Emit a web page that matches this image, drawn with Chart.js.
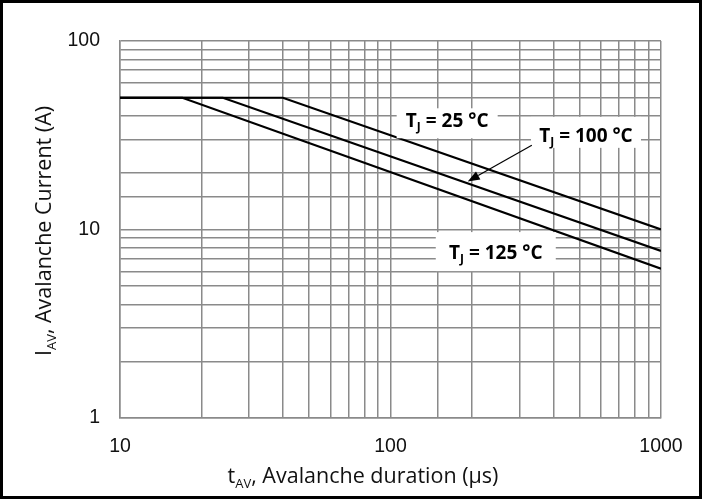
<!DOCTYPE html>
<html>
<head>
<meta charset="utf-8">
<script src="https://cdn.jsdelivr.net/npm/chart.js@4.4.1/dist/chart.umd.min.js"></script>
<style>
  html, body { margin: 0; padding: 0; background: #fff; }
  #wrap { width: 702px; height: 499px; position: relative; }
</style>
</head>
<body>
<div id="wrap"><canvas id="chart" width="702" height="499"></canvas></div>
<script>
// Avalanche current vs avalanche duration (log-log)

// duration (µs) / current (A) for each junction temperature
const tj25Duration = [10, 40, 1000];
const tj25Current = [50, 50, 10];
const tj100Duration = [10, 24, 1000];
const tj100Current = [50, 50, 7.7];
const tj125Duration = [10, 17, 1000];
const tj125Current = [50, 50, 6.2];

const xTickLabels = [10, 100, 1000];
const yTickLabels = [1, 10, 100];

// label texts: [main, subscript, rest]
const seriesLabels = [
    ['T', 'J', ' = 25 °C'],
    ['T', 'J', ' = 100 °C'],
    ['T', 'J', ' = 125 °C']
];

const toPoints = (xs, ys) => xs.map((x, i) => ({ x: x, y: ys[i] }));

const GRID = '#8a8a8a';
const TITLE_FONT = '"Open Sans", "Noto Sans", sans-serif';
const TICK_FONT = '"Liberation Sans", Arial, sans-serif';

// draw text made of normal + subscript parts, centred on (cx, cy)
function drawParts(ctx, parts, cx, cy, size, weight) {
    const big = `${weight} ${size}px ${TITLE_FONT}`;
    const small = `${weight} ${Math.round(size * 0.62)}px ${TITLE_FONT}`;
    let total = 0;
    parts.forEach(p => {
        ctx.font = p.sub ? small : big;
        total += ctx.measureText(p.t).width;
    });
    let x = cx - total / 2;
    ctx.textBaseline = 'middle';
    ctx.textAlign = 'left';
    parts.forEach(p => {
        ctx.font = p.sub ? small : big;
        ctx.fillText(p.t, x, p.sub ? cy + size * 0.32 : cy);
        x += ctx.measureText(p.t).width;
    });
}

// value-space anchors for the curve labels (box size in px)
const labelBoxes = [
    { x: 162, y: 37.5, w: 101, h: 30, dy: 2 },
    { x: 528, y: 31.2, w: 110, h: 31, dy: -4 },
    { x: 245, y: 7.45, w: 120, h: 39, dy: -2 }
];
const arrowFrom = { x: 333, y: 28 };
const arrowTo = { x: 193, y: 18 };

const decorPlugin = {
    id: 'decor',
    beforeDraw(chart) {
        const ctx = chart.ctx;
        ctx.save();
        ctx.fillStyle = '#fff';
        ctx.fillRect(0, 0, chart.width, chart.height);
        ctx.restore();
    },
    afterDraw(chart) {
        const ctx = chart.ctx;
        const xs = chart.scales.x, ys = chart.scales.y;
        ctx.save();

        // curve labels on white boxes
        labelBoxes.forEach((b, i) => {
            const px = xs.getPixelForValue(b.x);
            const py = ys.getPixelForValue(b.y);
            ctx.fillStyle = '#fff';
            ctx.fillRect(px - b.w / 2, py - b.h / 2 + b.dy, b.w, b.h);
            ctx.fillStyle = '#000';
            const l = seriesLabels[i];
            drawParts(ctx, [{ t: l[0] }, { t: l[1], sub: true }, { t: l[2] }], px, py, 19, 'bold');
        });

        // arrow pointing to the 100 °C curve
        const ax = xs.getPixelForValue(arrowFrom.x), ay = ys.getPixelForValue(arrowFrom.y);
        const bx = xs.getPixelForValue(arrowTo.x), by = ys.getPixelForValue(arrowTo.y);
        const ang = Math.atan2(by - ay, bx - ax);
        const hl = 12, hw = 4.5;
        const baseX = bx - hl * Math.cos(ang), baseY = by - hl * Math.sin(ang);
        ctx.strokeStyle = '#000';
        ctx.lineWidth = 1.2;
        ctx.beginPath();
        ctx.moveTo(ax, ay);
        ctx.lineTo(baseX, baseY);
        ctx.stroke();
        ctx.fillStyle = '#000';
        ctx.beginPath();
        ctx.moveTo(bx, by);
        ctx.lineTo(baseX + hw * Math.sin(ang), baseY - hw * Math.cos(ang));
        ctx.lineTo(baseX - hw * Math.sin(ang), baseY + hw * Math.cos(ang));
        ctx.closePath();
        ctx.fill();

        // axis titles
        ctx.fillStyle = '#111';
        drawParts(ctx, [{ t: 't' }, { t: 'AV', sub: true }, { t: ', Avalanche duration (µs)' }], 363, 477, 21.5, 'normal');
        ctx.save();
        ctx.translate(45, 231);
        ctx.rotate(-Math.PI / 2);
        drawParts(ctx, [{ t: 'I' }, { t: 'AV', sub: true }, { t: ', Avalanche Current (A)' }], 0, 0, 21.5, 'normal');
        ctx.restore();

        // outer frame
        ctx.strokeStyle = '#000';
        ctx.lineWidth = 3;
        ctx.strokeRect(1.5, 1.5, chart.width - 3, chart.height - 3);
        ctx.restore();
    }
};

const lineStyle = {
    borderColor: '#000',
    borderWidth: 2.2,
    pointRadius: 0,
    showLine: true,
    fill: false,
    tension: 0
};

new Chart(document.getElementById('chart'), {
    type: 'scatter',
    data: {
        datasets: [
            { label: 'TJ = 25 °C', data: toPoints(tj25Duration, tj25Current), ...lineStyle },
            { label: 'TJ = 100 °C', data: toPoints(tj100Duration, tj100Current), ...lineStyle },
            { label: 'TJ = 125 °C', data: toPoints(tj125Duration, tj125Current), ...lineStyle }
        ]
    },
    options: {
        responsive: false,
        animation: false,
        devicePixelRatio: 1,
        layout: { padding: { left: 0, right: 41, top: 41, bottom: 0 } },
        plugins: {
            legend: { display: false },
            tooltip: { enabled: false }
        },
        scales: {
            x: {
                type: 'logarithmic',
                min: 10,
                max: 1000,
                afterFit: s => { s.height = 81; },
                border: { color: GRID, width: 1.5 },
                grid: { color: GRID, lineWidth: 1.5, drawTicks: false },
                ticks: {
                    autoSkip: false,
                    maxRotation: 0,
                    padding: 17,
                    color: '#111',
                    font: { family: TICK_FONT, size: 19.5 },
                    callback: v => xTickLabels.includes(v) ? String(v) : ''
                }
            },
            y: {
                type: 'logarithmic',
                min: 1,
                max: 100,
                afterFit: s => { s.width = 120; },
                border: { color: GRID, width: 1.5 },
                grid: { color: GRID, lineWidth: 1.5, drawTicks: false },
                ticks: {
                    autoSkip: false,
                    padding: 20,
                    color: '#111',
                    font: { family: TICK_FONT, size: 19.5 },
                    callback: v => yTickLabels.includes(v) ? String(v) : ''
                }
            }
        }
    },
    plugins: [decorPlugin]
});
</script>
</body>
</html>
